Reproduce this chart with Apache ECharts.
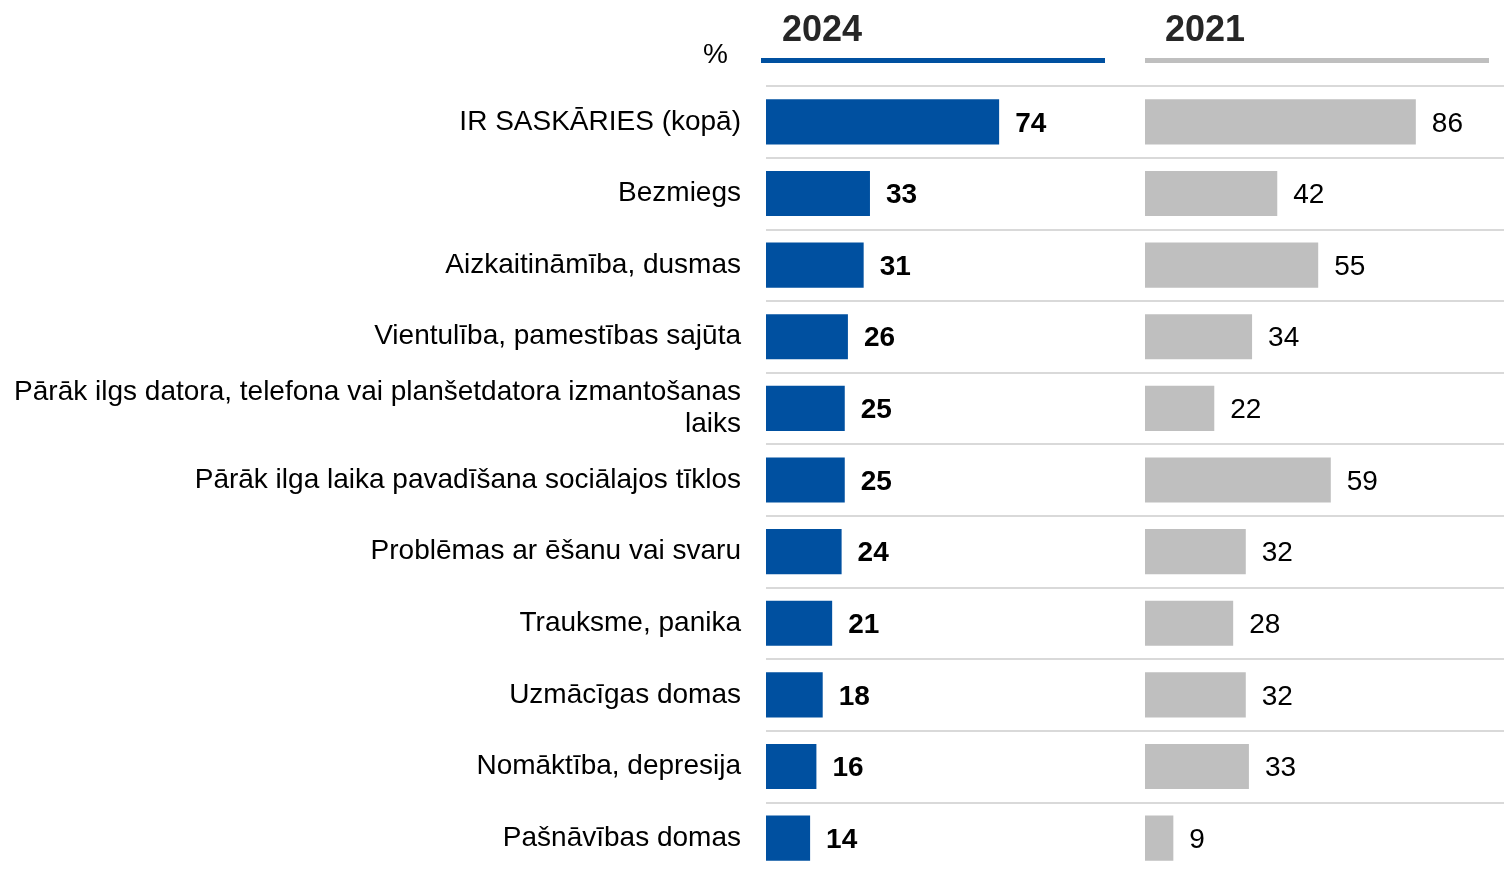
<!DOCTYPE html>
<html>
<head>
<meta charset="utf-8">
<script src="https://cdn.jsdelivr.net/npm/echarts@6/dist/echarts.min.js"></script>
<style>
  html, body { margin: 0; padding: 0; background: #fff; overflow: hidden; }
  #chart { width: 1504px; height: 880px; }
</style>
</head>
<body>
<div id="chart"></div>
<script>
var categories = [
    'IR SASKĀRIES (kopā)',
    'Bezmiegs',
    'Aizkaitināmība, dusmas',
    'Vientulība, pamestības sajūta',
    'Pārāk ilgs datora, telefona vai planšetdatora izmantošanas\nlaiks',
    'Pārāk ilga laika pavadīšana sociālajos tīklos',
    'Problēmas ar ēšanu vai svaru',
    'Trauksme, panika',
    'Uzmācīgas domas',
    'Nomāktība, depresija',
    'Pašnāvības domas'
];
var values2024 = [74, 33, 31, 26, 25, 25, 24, 21, 18, 16, 14];
var values2021 = [86, 42, 55, 34, 22, 59, 32, 28, 32, 33, 9];
var seriesNames = ['2024', '2021'];

var font = 'Liberation Sans, Arial, sans-serif';
var blue = '#0050a0';
var grey = '#bfbfbf';

var splitStyle = { show: true, lineStyle: { color: '#d9d9d9', width: 2 } };

var option = {
    animation: false,
    textStyle: { fontFamily: font },
    grid: [
        { left: 766, top: 86, width: 379, height: 788 },
        { left: 1145, top: 86, width: 359, height: 788 }
    ],
    xAxis: [
        { gridIndex: 0, type: 'value', min: 0, max: 120.3, show: false },
        { gridIndex: 1, type: 'value', min: 0, max: 114, show: false }
    ],
    yAxis: [
        {
            gridIndex: 0, type: 'category', inverse: true, data: categories,
            axisLine: { show: false }, axisTick: { show: false },
            splitLine: splitStyle,
            axisLabel: {
                margin: 25, fontSize: 28, color: '#000', fontFamily: font,
                lineHeight: 32, align: 'right', padding: [5, 0, 0, 0]
            }
        },
        {
            gridIndex: 1, type: 'category', inverse: true, data: categories,
            axisLine: { show: false }, axisTick: { show: false },
            splitLine: splitStyle,
            axisLabel: { show: false }
        }
    ],
    series: [
        {
            name: seriesNames[0], type: 'bar', xAxisIndex: 0, yAxisIndex: 0,
            data: values2024, barCategoryGap: '37%',
            itemStyle: { color: blue },
            label: {
                show: true, position: 'right', distance: 16, offset: [0, 2],
                fontSize: 28, fontWeight: 'bold', color: '#000', fontFamily: font
            }
        },
        {
            name: seriesNames[1], type: 'bar', xAxisIndex: 1, yAxisIndex: 1,
            data: values2021, barCategoryGap: '37%',
            itemStyle: { color: grey },
            label: {
                show: true, position: 'right', distance: 16, offset: [0, 2],
                fontSize: 28, color: '#000', fontFamily: font
            }
        }
    ],
    graphic: [
        {
            type: 'text', left: 782, top: 13,
            style: { text: seriesNames[0], font: 'bold 36px ' + font, fill: '#262626' }
        },
        {
            type: 'text', left: 1165, top: 13,
            style: { text: seriesNames[1], font: 'bold 36px ' + font, fill: '#262626' }
        },
        {
            type: 'text', left: 703, top: 41,
            style: { text: '%', font: '28px ' + font, fill: '#000' }
        },
        {
            type: 'rect', shape: { x: 761, y: 58, width: 344, height: 5 },
            style: { fill: blue }
        },
        {
            type: 'rect', shape: { x: 1145, y: 58, width: 344, height: 5 },
            style: { fill: grey }
        }
    ]
};

var chart = echarts.init(document.getElementById('chart'));
chart.setOption(option);
</script>
</body>
</html>
